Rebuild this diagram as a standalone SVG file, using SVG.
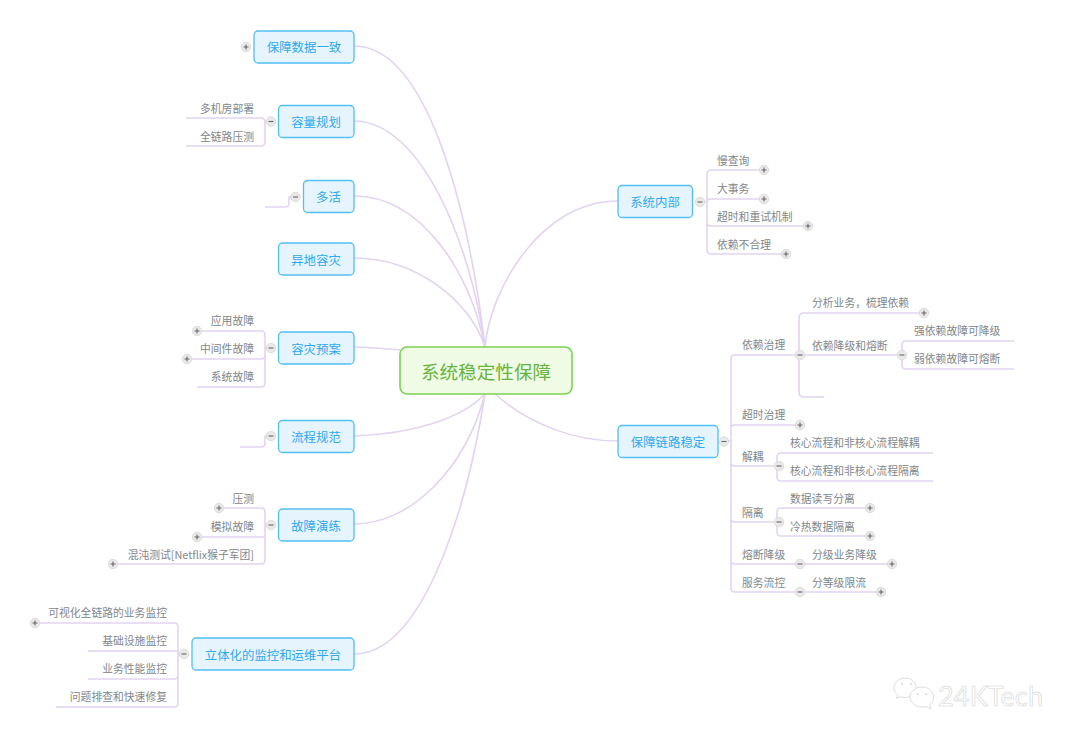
<svg xmlns="http://www.w3.org/2000/svg" xmlns:xlink="http://www.w3.org/1999/xlink" width="1080" height="741" viewBox="0 0 1080 741">
<style>
text{font-family:"Noto Sans CJK SC","Liberation Sans",sans-serif;dominant-baseline:central}
.c{fill:none;stroke:#e3d3f1;stroke-width:1.6}
.box{fill:#e6f5fd;stroke:#50bff2;stroke-width:1.3}
.t{font-size:12.4px;fill:#2ea8ee;text-anchor:middle}
.l{font-size:10.8px;fill:#81878b}
.r{text-anchor:end}
.tg{fill:#e9e9e9;stroke:#dcdcdc;stroke-width:1}
.s{stroke:#666;stroke-width:1.1;fill:none}
</style>
<defs>
<g id="plus"><circle class="tg" r="4.7"/><path class="s" d="M-2.5 0H2.5M0 -2.5V2.5"/></g>
<g id="minus"><circle class="tg" r="4.7"/><path class="s" d="M-2.5 0H2.5"/></g>
</defs>
<rect width="1080" height="741" fill="#fff"/>
<g id="connectors">
<path class="c" d="M354 46C430 46 470 220 485 347"/>
<path class="c" d="M354 121C420 121 470 240 485 347"/>
<path class="c" d="M354 196C420 196 470 270 485 347"/>
<path class="c" d="M354 258C415 258 470 300 485 347"/>
<path class="c" d="M354 347Q380 348 400 350"/>
<path class="c" d="M354 436C410 434 460 420 485 394"/>
<path class="c" d="M354 524C410 524 465 470 485 394"/>
<path class="c" d="M354 654C420 654 465 520 485 394"/>
<path class="c" d="M485 347C490 290 540 201 618 201"/>
<path class="c" d="M495 394C530 425 575 441 618 441"/>
<path class="c" d="M186 118H261Q265 118 265 122V142Q265 146 261 146H186M265 121.500H271"/>
<path class="c" d="M265 207H285Q289 207 289 203V197H295"/>
<path class="c" d="M197 331H261Q265 331 265 335V383Q265 387 261 387H197M187 359H261Q265 359 265 355M265 348H271"/>
<path class="c" d="M240 447H261Q265 447 265 443V436H271"/>
<path class="c" d="M219 508H261Q265 508 265 512V560Q265 564 261 564H113M197 537H265M265 525H271"/>
<path class="c" d="M35 623H174Q178 623 178 627V703Q178 707 174 707H56M88 651H178M88 679H174Q178 679 178 675M178 654H184"/>
<path class="c" d="M764 170H711Q707 170 707 174V250Q707 254 711 254H786M764 199H711Q707 199 707 203M808 226H711Q707 226 707 222M700 202H707"/>
<path class="c" d="M800 355H735Q731 355 731 359V588Q731 592 735 592H881M800 425H735Q731 425 731 429M724 441H731M779 466H735Q731 466 731 462M779 522H735Q731 522 731 518M892 564H735Q731 564 731 560"/>
<path class="c" d="M924 313H804Q799 313 799 318V392Q799 397 804 397H824M799 355H902"/>
<path class="c" d="M1014 341H906Q902 341 902 345V365Q902 369 906 369H1014"/>
<path class="c" d="M933 453H781Q777 453 777 457V477Q777 481 781 481H933"/>
<path class="c" d="M870 508H781Q777 508 777 512V532Q777 536 781 536H870"/>
</g>
<g id="root"><rect x="400" y="347" width="172" height="47" rx="7" fill="#effbe5" stroke="#7dd156" stroke-width="1.6"/><text x="486" y="370" font-size="18.600" fill="#68b43f" text-anchor="middle">系统稳定性保障</text></g>
<g id="n1"><rect class="box" x="254" y="31" width="100" height="32" rx="4"/><text class="t" x="304" y="47">保障数据一致</text><use xlink:href="#plus" x="246" y="47"/></g>
<g id="n2"><rect class="box" x="278.500" y="105.500" width="75.500" height="32" rx="4"/><text class="t" x="316" y="122">容量规划</text><use xlink:href="#minus" x="271" y="121.500"/></g>
<g id="n2a"><text class="l r" x="254" y="107.500">多机房部署</text></g>
<g id="n2b"><text class="l r" x="254" y="135.500">全链路压测</text></g>
<g id="n3"><rect class="box" x="303.500" y="180.500" width="50.500" height="32" rx="4"/><text class="t" x="328.500" y="197">多活</text><use xlink:href="#minus" x="295.500" y="197"/></g>
<g id="n4"><rect class="box" x="278.500" y="243" width="75.500" height="32" rx="4"/><text class="t" x="316" y="259.500">异地容灾</text></g>
<g id="n5"><rect class="box" x="278.500" y="332" width="75.500" height="32" rx="4"/><text class="t" x="316" y="348.500">容灾预案</text><use xlink:href="#minus" x="271" y="348"/></g>
<g id="n5a"><text class="l r" x="254" y="319.500">应用故障</text><use xlink:href="#plus" x="197" y="331"/></g>
<g id="n5b"><text class="l r" x="254" y="347.500">中间件故障</text><use xlink:href="#plus" x="187" y="359"/></g>
<g id="n5c"><text class="l r" x="254" y="375.500">系统故障</text></g>
<g id="n6"><rect class="box" x="278.500" y="420.500" width="75.500" height="32" rx="4"/><text class="t" x="316" y="437">流程规范</text><use xlink:href="#minus" x="271" y="436"/></g>
<g id="n7"><rect class="box" x="278.500" y="509" width="75.500" height="32" rx="4"/><text class="t" x="316" y="525.500">故障演练</text><use xlink:href="#minus" x="271" y="525"/></g>
<g id="n7a"><text class="l r" x="254" y="497.500">压测</text><use xlink:href="#plus" x="219" y="508"/></g>
<g id="n7b"><text class="l r" x="254" y="525.500">模拟故障</text><use xlink:href="#plus" x="197" y="537"/></g>
<g id="n7c"><text class="l r" x="254" y="553.500">混沌测试[Netflix猴子军团]</text><use xlink:href="#plus" x="113" y="564"/></g>
<g id="n8"><rect class="box" x="192" y="638" width="162" height="32" rx="4"/><text class="t" x="273" y="654.500">立体化的监控和运维平台</text><use xlink:href="#minus" x="184" y="654"/></g>
<g id="n8a"><text class="l r" x="167" y="611.500">可视化全链路的业务监控</text><use xlink:href="#plus" x="35" y="623"/></g>
<g id="n8b"><text class="l r" x="167" y="639.500">基础设施监控</text></g>
<g id="n8c"><text class="l r" x="167" y="667.500">业务性能监控</text></g>
<g id="n8d"><text class="l r" x="167" y="695.500">问题排查和快速修复</text></g>
<g id="n9"><rect class="box" x="618" y="185.500" width="74.500" height="32" rx="4"/><text class="t" x="655" y="202">系统内部</text><use xlink:href="#minus" x="700" y="202"/></g>
<g id="n9a"><text class="l" x="717" y="159.500">慢查询</text><use xlink:href="#plus" x="764" y="170"/></g>
<g id="n9b"><text class="l" x="717" y="187.500">大事务</text><use xlink:href="#plus" x="764" y="199"/></g>
<g id="n9c"><text class="l" x="717" y="215.500">超时和重试机制</text><use xlink:href="#plus" x="808" y="226"/></g>
<g id="n9d"><text class="l" x="717" y="243.500">依赖不合理</text><use xlink:href="#plus" x="786" y="254"/></g>
<g id="n10"><rect class="box" x="618" y="425.500" width="100" height="32" rx="4"/><text class="t" x="668" y="442">保障链路稳定</text><use xlink:href="#minus" x="724" y="441.500"/></g>
<g id="n10a"><text class="l" x="742" y="343.500">依赖治理</text><use xlink:href="#minus" x="800" y="355"/></g>
<g id="n10a1"><text class="l" x="812" y="302">分析业务，梳理依赖</text><use xlink:href="#plus" x="924" y="313"/></g>
<g id="n10a2"><text class="l" x="812" y="344.500">依赖降级和熔断</text><use xlink:href="#minus" x="902" y="355"/></g>
<g id="n10a2a"><text class="l" x="914" y="329.500">强依赖故障可降级</text></g>
<g id="n10a2b"><text class="l" x="914" y="357.500">弱依赖故障可熔断</text></g>
<g id="n10b"><text class="l" x="742" y="413.500">超时治理</text><use xlink:href="#plus" x="800" y="425"/></g>
<g id="n10c"><text class="l" x="742" y="455.500">解耦</text><use xlink:href="#minus" x="779" y="466"/></g>
<g id="n10c1"><text class="l" x="790" y="441.500">核心流程和非核心流程解耦</text></g>
<g id="n10c2"><text class="l" x="790" y="469.500">核心流程和非核心流程隔离</text></g>
<g id="n10d"><text class="l" x="742" y="511.500">隔离</text><use xlink:href="#minus" x="779" y="522"/></g>
<g id="n10d1"><text class="l" x="790" y="497.500">数据读写分离</text><use xlink:href="#plus" x="870" y="508"/></g>
<g id="n10d2"><text class="l" x="790" y="525.500">冷热数据隔离</text><use xlink:href="#plus" x="870" y="536"/></g>
<g id="n10e"><text class="l" x="742" y="553.500">熔断降级</text><use xlink:href="#minus" x="800" y="564"/></g>
<g id="n10e1"><text class="l" x="812" y="553.500">分级业务降级</text><use xlink:href="#plus" x="892" y="564"/></g>
<g id="n10f"><text class="l" x="742" y="581.500">服务流控</text><use xlink:href="#minus" x="800" y="592"/></g>
<g id="n10f1"><text class="l" x="812" y="581.500">分等级限流</text><use xlink:href="#plus" x="881" y="592"/></g>
<g id="watermark" fill="#fff" stroke="#d4d4d4" stroke-width=".8">
<path d="M905 678c-6 0-11 4.500-11 10 0 3 1.500 5.500 4 7.500l-2 3 4-1.800c1.500.5 3 .8 5 .8 6 0 11-4.500 11-10s-5-9.500-11-9.500z"/>
<path d="M922 687c-6.500 0-12 4.500-12 10s5.500 10 12 10c1.500 0 3-.2 4-.6l5 2.600-1.500-4c2.500-2 4-4.500 4-8 0-5.500-5-10-11.500-10z"/>
<circle cx="917.500" cy="694" r=".8"/><circle cx="926" cy="694" r=".8"/><circle cx="902" cy="684" r=".8"/><circle cx="911" cy="684" r=".8"/>
<text x="938" y="695.500" font-size="27" style="font-family:'Lato','Liberation Sans',sans-serif" stroke-width=".6" textLength="105">24KTech</text>
</g>
</svg>
